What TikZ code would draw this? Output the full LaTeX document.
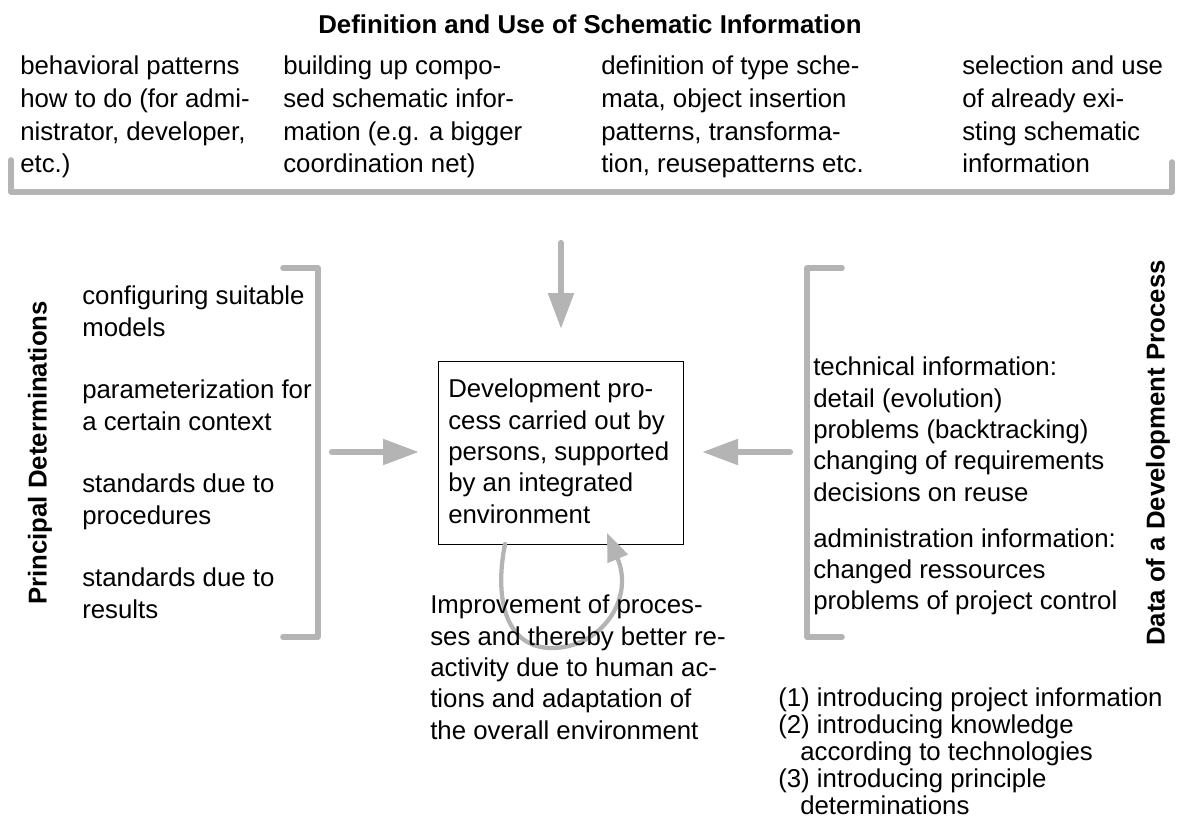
\documentclass[tikz,border=0pt]{standalone}
\usepackage{fontspec}
\setmainfont{Liberation Sans}
\usetikzlibrary{arrows.meta}
\definecolor{gbar}{RGB}{180,180,180}
\begin{document}
\begin{tikzpicture}[x=0.75pt,y=-0.75pt,
  txt/.style={font=\fontsize{19.35pt}{23.5pt}\selectfont, align=left, inner sep=0pt, anchor=north west},
  toptxt/.style={txt, font=\fontsize{19.35pt}{24.5pt}\selectfont},
  listtxt/.style={txt, font=\fontsize{19.35pt}{20.25pt}\selectfont},
  ttl/.style={font=\fontsize{19.35pt}{23.5pt}\selectfont\bfseries, inner sep=0pt},
  gline/.style={draw=gbar, line width=4.2pt, line cap=round, line join=round},
  garrow/.style={draw=gbar, line width=4.7pt, line cap=round, -{Triangle[length=27pt,width=18.5pt]}},
  looparrow/.style={draw=gbar, line width=3.2pt, line cap=round, -{Triangle[length=21pt,width=16pt]}},
]
\useasboundingbox (0,0) rectangle (1187,832);

% title
\node[ttl, anchor=base] (title) at (590,33) {Definition and Use of Schematic Information};

% top columns
\node[toptxt] (c1) at (20,56) {behavioral patterns\\how to do (for admi-\\nistrator, developer,\\etc.)};
\node[toptxt] (c2) at (283,56) {building up compo-\\sed schematic infor-\\mation (e.g. a bigger\\coordination net)};
\node[toptxt] (c3) at (601,56) {definition of type sche-\\mata, object insertion\\patterns, transforma-\\tion, reusepatterns etc.};
\node[toptxt] (c4) at (962,56) {selection and use\\of already exi-\\sting schematic\\information};

% top bracket
\draw[gline] (11,160) -- (11,192) -- (1172,192) -- (1172,162);

% central box
\node[draw, line width=0.75pt, minimum width=183.75pt, minimum height=137.25pt, inner sep=0pt, anchor=north west] (box) at (438,361) {};
\node[txt] (boxtext) at (448,379) {Development pro-\\cess carried out by\\persons, supported\\by an integrated\\environment};

% side labels
\node[ttl, rotate=90] (pd) at (40,453) {Principal Determinations};
\node[ttl, rotate=90] (dp) at (1158,453) {Data of a Development Process};

% left column
\node[txt] (left) at (82,286) {configuring suitable\\models\\[23.5pt]parameterization for\\a certain context\\[23.5pt]standards due to\\procedures\\[23.5pt]standards due to\\results};
\draw[gline] (283,268) -- (318,268) -- (318,637) -- (283,637);

% right column
\node[txt] (right) at (813,357) {technical information:\\detail (evolution)\\problems (backtracking)\\changing of requirements\\decisions on reuse\\[11pt]administration information:\\changed ressources\\problems of project control};
\draw[gline] (842,268) -- (807,268) -- (807,637) -- (842,637);

% arrows
\coordinate (ds) at (561,243);
\coordinate (dt) at (561,329);
\coordinate (ls) at (332,452);
\coordinate (lt) at (419,452);
\coordinate (rs) at (790,452);
\coordinate (rt) at (702,452);
\draw[garrow] (ds) -- (dt);
\draw[garrow] (ls) -- (lt);
\draw[garrow] (rs) -- (rt);

% improvement loop
\coordinate (lpa) at (505,544);
\coordinate (lpb) at (552,648);
\coordinate (lpc) at (607,533);
\draw[looparrow] (lpa) .. controls (494,600) and (506,648) .. (lpb) .. controls (600,648) and (635,600) .. (lpc);

% bottom middle text
\node[txt] (impr) at (430,595) {Improvement of proces-\\ses and thereby better re-\\activity due to human ac-\\tions and adaptation of\\the overall environment};

% bottom right list
\node[listtxt] (list) at (778,688) {(1) introducing project information\\(2) introducing knowledge\\\hspace*{16.5pt}according to technologies\\(3) introducing principle\\\hspace*{16.5pt}determinations};
\end{tikzpicture}
\end{document}
